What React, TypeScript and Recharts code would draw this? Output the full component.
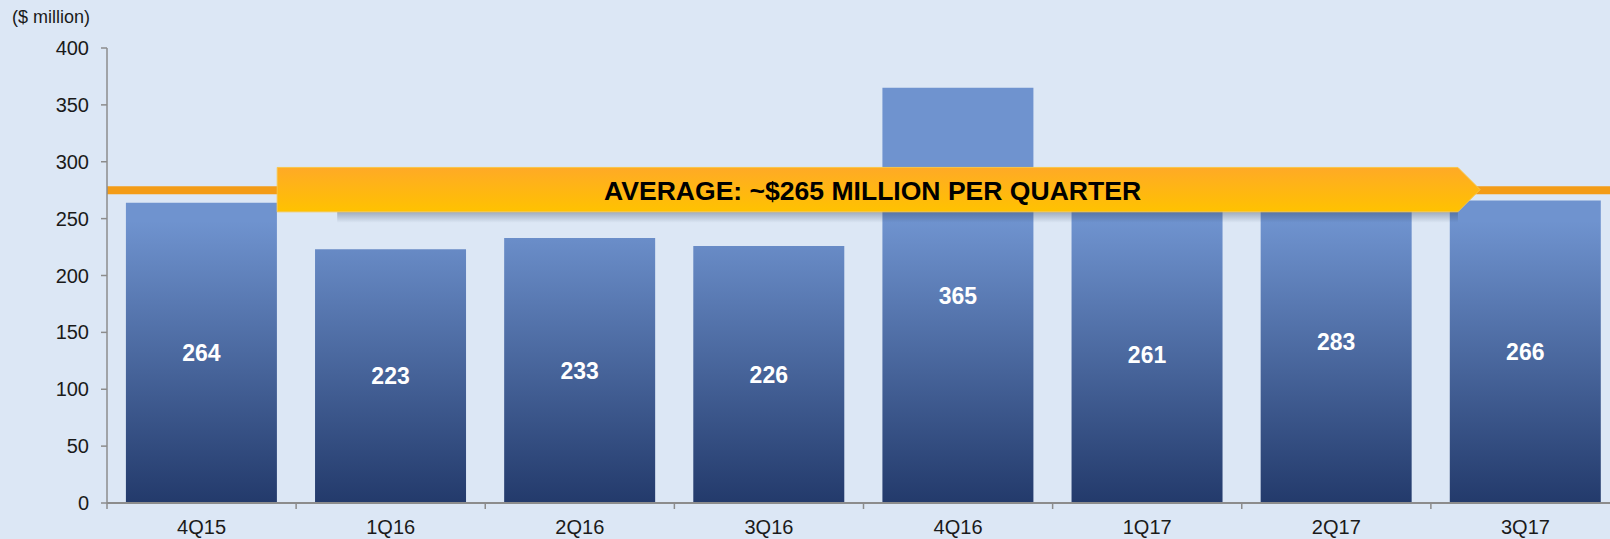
import React from 'react';
import { BarChart, Bar, XAxis, YAxis, ReferenceLine, ReferenceArea, LabelList } from 'recharts';

const quarters = ['4Q15', '1Q16', '2Q16', '3Q16', '4Q16', '1Q17', '2Q17', '3Q17'];
const earnings = [264, 223, 233, 226, 365, 261, 283, 266];
const yTicks = [0, 50, 100, 150, 200, 250, 300, 350, 400];

const averageText = 'AVERAGE: ~$265 MILLION PER QUARTER';
const averageLineAt = 275;
const bannerLow = 256;
const bannerHigh = 295;
const bannerFrom = '4Q15';
const bannerTo = '2Q17';

const chartData = quarters.map((q, i) => ({ quarter: q, value: earnings[i] }));

const FONT = '"Liberation Sans", Arial, sans-serif';
const AXIS = '#8C8C8C';

const XTick = (props: any) => {
  const { x, y, payload } = props;
  const half = payload && payload.offset ? payload.offset : 94.5;
  return (
    <g>
      <line x1={x - half} x2={x - half} y1={y} y2={y + 6} stroke={AXIS} strokeWidth={1.5} />
      <text x={x} y={y + 31} textAnchor="middle" fontSize={20} fontFamily={FONT} fill="#1a1a1a">
        {payload.value}
      </text>
    </g>
  );
};

// arrow banner over the reference area
const Banner = (props: any) => {
  const { x, y, width, height } = props;
  const band = width / 7;
  const left = x + band * 0.9;
  const bodyRight = x + width + band * 0.143;
  const tip = x + width + band * 0.26;
  const bottom = y + height;
  const pts = `${left},${y} ${bodyRight},${y} ${tip},${y + height / 2} ${bodyRight},${bottom} ${left},${bottom}`;
  return (
    <g>
      <rect x={left + 60} y={bottom} width={bodyRight - left - 60} height={11} fill="url(#bannerShadow)" />
      <polygon points={pts} fill="url(#bannerGrad)" stroke="#F7C64A" strokeWidth={1} />
      <text
        x={(left + bodyRight) / 2 + 5}
        y={y + height / 2 + 10}
        textAnchor="middle"
        fontSize={26}
        fontWeight="bold"
        fontFamily={FONT}
        fill="#000"
        textLength={537}
        lengthAdjust="spacingAndGlyphs"
      >
        {averageText}
      </text>
    </g>
  );
};

export default function App() {
  return (
    <div
      style={{
        position: 'fixed',
        left: 0,
        top: 0,
        width: 1610,
        height: 539,
        overflow: 'hidden',
        background: '#DCE7F5',
        fontFamily: FONT,
      }}
    >
      <div style={{ position: 'absolute', left: 12, top: 7, fontSize: 18, color: '#1a1a1a' }}>($ million)</div>
      <BarChart width={1620} height={539} data={chartData} margin={{ top: 48, right: 0, bottom: 0, left: 0 }}>
        <defs>
          <linearGradient id="barGrad" gradientUnits="userSpaceOnUse" x1={0} y1={48} x2={0} y2={503}>
            <stop offset="0" stopColor="#6F93CF" />
            <stop offset="0.38" stopColor="#6F93CF" />
            <stop offset="1" stopColor="#233A6B" />
          </linearGradient>
          <linearGradient id="bannerGrad" x1="0" y1="0" x2="0" y2="1">
            <stop offset="0" stopColor="#FFAA26" />
            <stop offset="1" stopColor="#FFC200" />
          </linearGradient>
          <linearGradient id="bannerShadow" x1="0" y1="0" x2="0" y2="1">
            <stop offset="0" stopColor="#2a3a55" stopOpacity={0.35} />
            <stop offset="1" stopColor="#2a3a55" stopOpacity={0} />
          </linearGradient>
        </defs>
        <XAxis
          dataKey="quarter"
          height={36}
          axisLine={{ stroke: AXIS, strokeWidth: 2 }}
          tickLine={false}
          tickSize={0}
          tickMargin={0}
          interval={0}
          tick={<XTick />}
        />
        <YAxis
          width={107}
          domain={[0, 400]}
          ticks={yTicks}
          interval={0}
          axisLine={{ stroke: AXIS, strokeWidth: 1.5 }}
          tickLine={{ stroke: AXIS, strokeWidth: 1.5 }}
          tickSize={6}
          tickMargin={12}
          tick={{ fontSize: 20, fill: '#1a1a1a', fontFamily: FONT }}
        />
        <ReferenceLine y={averageLineAt} stroke="#F39C17" strokeWidth={8} ifOverflow="extendDomain" />
        <Bar dataKey="value" fill="url(#barGrad)" isAnimationActive={false}>
          <LabelList
            dataKey="value"
            position="center"
            fill="#ffffff"
            fontSize={23}
            fontWeight="bold"
            fontFamily={FONT}
          />
        </Bar>
        <ReferenceArea
          x1={bannerFrom}
          x2={bannerTo}
          y1={bannerLow}
          y2={bannerHigh}
          shape={<Banner />}
          zIndex={1500}
          ifOverflow="visible"
        />
      </BarChart>
    </div>
  );
}
